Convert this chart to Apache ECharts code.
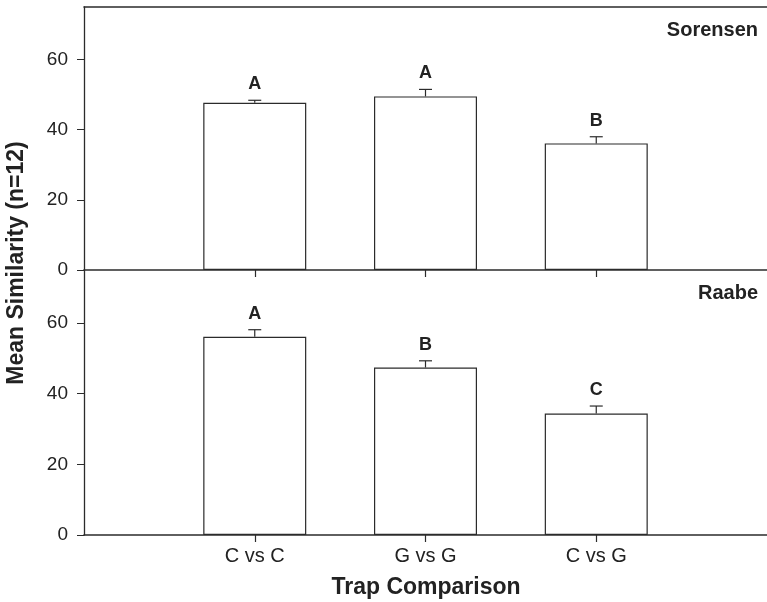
<!DOCTYPE html>
<html><head><meta charset="utf-8">
<script src="https://cdn.jsdelivr.net/npm/echarts@6/dist/echarts.min.js"></script>
<style>html,body{margin:0;padding:0;background:#fff}#c{width:767px;height:602px}</style>
</head><body><div id="c"></div>
<script>
const categories = ['C vs C', 'G vs G', 'C vs G'];
const sorensenMean = [47.7, 49.5, 36.1];
const sorensenErr = [0.7, 2.0, 1.9];
const sorensenLetters = ['A', 'A', 'B'];
const raabeMean = [56.1, 47.4, 34.4];
const raabeErr = [2.0, 1.9, 2.1];
const raabeLetters = ['A', 'B', 'C'];
const yTicks = [0, 20, 40, 60];
const panelNames = ['Sorensen', 'Raabe'];
const xTitle = 'Trap Comparison';
const yTitle = 'Mean Similarity (n=12)';

const FONT = '"Liberation Sans", Arial, Helvetica, sans-serif';
const INK = '#222';
const LINE = '#2b2b2b';
const axisCats = ['left-pad', ...categories, 'right-pad'];
const isReal = (i) => i > 0 && i < axisCats.length - 1;

function errRender(letters) {
  return function (params, api) {
    const i = params.dataIndex;
    const xv = api.value(0);
    const p0 = api.coord([xv, api.value(1)]);
    const p1 = api.coord([xv, api.value(2)]);
    const half = 6.5;
    return {
      type: 'group',
      children: [
        { type: 'line', shape: { x1: p0[0], y1: p0[1], x2: p1[0], y2: p1[1] }, style: { stroke: LINE, lineWidth: 1.2 } },
        { type: 'line', shape: { x1: p1[0] - half, y1: p1[1], x2: p1[0] + half, y2: p1[1] }, style: { stroke: LINE, lineWidth: 1.2 } },
        { type: 'text', x: p1[0], y: p1[1] - 7, style: { text: letters[i], fill: INK, font: 'bold 18px ' + FONT, textAlign: 'center', textVerticalAlign: 'bottom' } }
      ]
    };
  };
}

function xAxisFor(gridIndex, showLabels) {
  return {
    type: 'category', gridIndex, data: axisCats, boundaryGap: false,
    axisLine: { show: true, lineStyle: { color: LINE, width: 1.7 } },
    axisTick: { show: true, length: 7, interval: (i) => isReal(i), lineStyle: { color: LINE, width: 1.2 } },
    axisLabel: { show: showLabels, interval: (i) => isReal(i), formatter: (v) => categories.includes(v) ? v : '', color: INK, fontFamily: FONT, fontSize: 20, margin: 11 },
    splitLine: { show: false }
  };
}
function yAxisFor(gridIndex) {
  return {
    type: 'value', gridIndex, min: 0, max: 75,
    axisLine: { show: true, lineStyle: { color: LINE, width: 1.3 } },
    axisTick: { show: true, length: 7, customValues: yTicks, lineStyle: { color: LINE, width: 1 } },
    axisLabel: { customValues: yTicks, color: INK, fontFamily: FONT, fontSize: 19, margin: 16 },
    splitLine: { show: false }
  };
}
function barSeries(idx, means) {
  return {
    type: 'bar', xAxisIndex: idx, yAxisIndex: idx, barWidth: 103,
    data: categories.map((c, i) => [c, means[i]]),
    itemStyle: { color: '#fff', borderColor: LINE, borderWidth: 1.2 },
    silent: true, animation: false
  };
}
function errSeries(idx, means, errs, letters) {
  return {
    type: 'custom', xAxisIndex: idx, yAxisIndex: idx, z: 5,
    encode: { x: 0, y: [1, 2] },
    data: categories.map((c, i) => [c, means[i], means[i] + errs[i]]),
    renderItem: errRender(letters), silent: true, animation: false
  };
}

const chart = echarts.init(document.getElementById('c'), null, { renderer: 'canvas' });
chart.setOption({
  animation: false,
  backgroundColor: '#fff',
  grid: [
    { left: 84, top: 7, width: 688, height: 263 },
    { left: 84, top: 270, width: 688, height: 265 }
  ],
  xAxis: [
    xAxisFor(0, false),
    xAxisFor(1, true),
    { type: 'value', gridIndex: 0, position: 'top', min: 0, max: 1,
      axisLine: { show: true, lineStyle: { color: LINE, width: 1.6 } },
      axisTick: { show: false }, axisLabel: { show: false }, splitLine: { show: false } }
  ],
  yAxis: [yAxisFor(0), yAxisFor(1)],
  series: [
    barSeries(0, sorensenMean),
    errSeries(0, sorensenMean, sorensenErr, sorensenLetters),
    barSeries(1, raabeMean),
    errSeries(1, raabeMean, raabeErr, raabeLetters)
  ],
  graphic: [
    { type: 'text', right: 9, top: 20, style: { text: panelNames[0], fill: INK, font: 'bold 20px ' + FONT } },
    { type: 'text', right: 9, top: 283, style: { text: panelNames[1], fill: INK, font: 'bold 20px ' + FONT } },
    { type: 'text', x: 426, y: 588, style: { text: xTitle, fill: INK, font: 'bold 23px ' + FONT, textAlign: 'center', textVerticalAlign: 'middle' } },
    { type: 'text', x: 17, y: 263, rotation: Math.PI / 2, style: { text: yTitle, fill: INK, font: 'bold 23px ' + FONT, textAlign: 'center', textVerticalAlign: 'middle' } }
  ]
});
</script>
</body></html>
